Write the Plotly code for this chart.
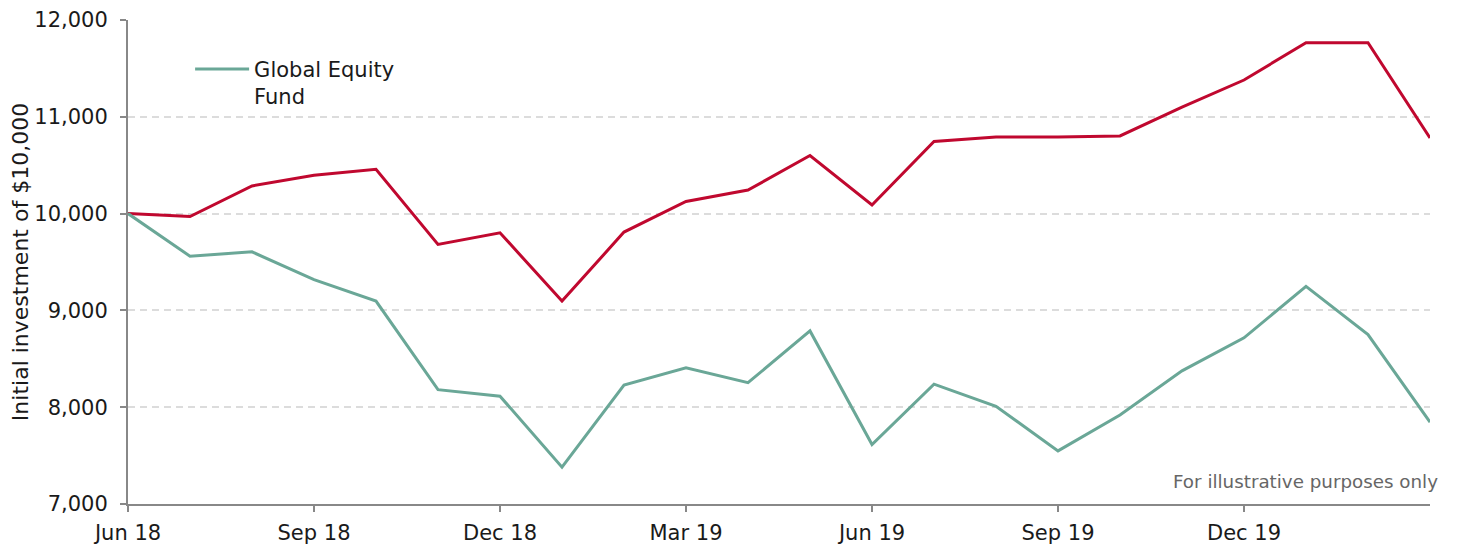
import plotly.graph_objects as go

months = ["Jun 18", "Jul 18", "Aug 18", "Sep 18", "Oct 18", "Nov 18", "Dec 18",
          "Jan 19", "Feb 19", "Mar 19", "Apr 19", "May 19", "Jun 19", "Jul 19",
          "Aug 19", "Sep 19", "Oct 19", "Nov 19", "Dec 19", "Jan 20", "Feb 20", "Mar 20"]

benchmark = [10000, 9969, 10286, 10395, 10457, 9682, 9802, 9096, 9809, 10125, 10243,
             10600, 10089, 10745, 10791, 10791, 10802, 11101, 11380, 11766, 11766, 10781]

fund = [10000, 9560, 9605, 9318, 9096, 8181, 8114, 7380, 8229, 8407, 8253, 8788,
        7614, 8238, 8010, 7549, 7920, 8375, 8717, 9248, 8750, 7845]

tick_labels = ["Jun 18", "Sep 18", "Dec 18", "Mar 19", "Jun 19", "Sep 19", "Dec 19"]
y_ticks = [7000, 8000, 9000, 10000, 11000, 12000]

FONT = "DejaVu Sans, Verdana, sans-serif"
AXIS_GREY = "#888888"
TEXT = "#1a1a1a"

fig = go.Figure()
fig.add_trace(go.Scatter(x=months, y=benchmark, mode="lines", name="Benchmark",
                         showlegend=False,
                         line=dict(color="#C0082F", width=3)))
fig.add_trace(go.Scatter(x=months, y=fund, mode="lines", name="Global Equity<br>Fund",
                         line=dict(color="#6AA797", width=3)))

fig.update_layout(
    width=1458, height=548,
    margin=dict(l=128, r=28, t=20, b=44),
    paper_bgcolor="white", plot_bgcolor="white",
    font=dict(family=FONT, size=21, color=TEXT),
    legend=dict(x=0.0477, y=0.9405, xanchor="left", yanchor="top", valign="top",
                bgcolor="rgba(0,0,0,0)", font=dict(size=21, color=TEXT),
                itemwidth=54),
    annotations=[dict(text="For illustrative purposes only", xref="paper", yref="paper",
                      x=1.0, y=0.0, xanchor="right", yanchor="bottom", yshift=10, xshift=10,
                      showarrow=False, font=dict(size=18.3, color="#666666", family=FONT))],
)

fig.update_xaxes(
    type="category", range=[0, len(months) - 1],
    tickmode="array", tickvals=tick_labels, ticktext=tick_labels,
    showgrid=False, showline=True, linecolor=AXIS_GREY, linewidth=2,
    ticks="outside", ticklen=6, tickcolor=AXIS_GREY, tickwidth=2,
    ticklabelstandoff=3,
    tickfont=dict(size=21, color=TEXT), zeroline=False, automargin=False,
)
fig.update_yaxes(
    range=[7000, 12000], tickmode="array", tickvals=y_ticks,
    tickformat=",d",
    showgrid=True, gridcolor="#dcdcdc", griddash="7px,5px", gridwidth=1.5,
    showline=True, linecolor=AXIS_GREY, linewidth=2,
    ticks="outside", ticklen=6, tickcolor=AXIS_GREY, tickwidth=2,
    ticklabelstandoff=8,
    tickfont=dict(size=21, color=TEXT), zeroline=False, automargin=False,
    title=dict(text="Initial investment of $10,000", font=dict(size=22, color=TEXT),
               standoff=0),
)

fig.write_html("out.html", config={"displayModeBar": False},
               post_script="document.body.style.margin='0px';")
